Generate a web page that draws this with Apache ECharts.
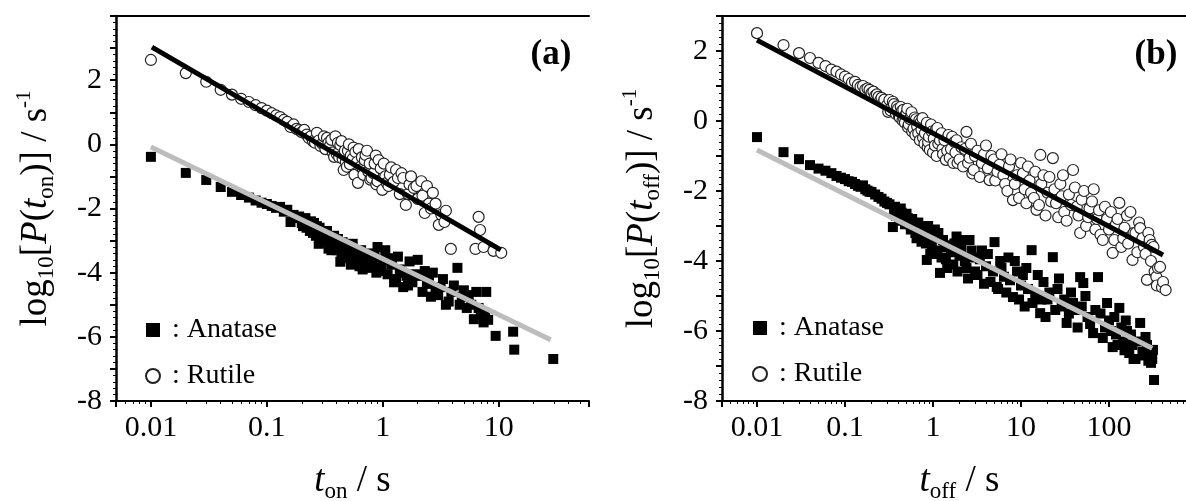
<!DOCTYPE html>
<html><head><meta charset="utf-8">
<script src="https://cdn.jsdelivr.net/npm/echarts@6/dist/echarts.min.js"></script>
<style>html,body{margin:0;padding:0;background:#fff}#c{width:1186px;height:501px}</style>
</head><body><div id="c"></div>
<script>
const FONT = "'Liberation Serif','Times New Roman',serif";

// ---- Panel (a): on-times ----
const anataseOn = [[0.01,-0.39],[0.02,-0.89],[0.03,-1.11],[0.04,-1.33],[0.05,-1.48],[0.06,-1.58],[0.07,-1.66],[0.08,-1.75],[0.09,-1.82],[0.10,-1.86],[0.11,-1.92],[0.12,-1.98],[0.13,-1.95],[0.14,-2.10],[0.15,-2.04],[0.16,-2.42],[0.17,-2.20],[0.18,-2.30],[0.19,-2.25],[0.20,-2.45],[0.205,-2.55],[0.21,-2.35],[0.215,-2.30],[0.22,-2.60],[0.23,-2.50],[0.235,-2.70],[0.24,-2.40],[0.245,-2.55],[0.25,-2.76],[0.255,-2.45],[0.26,-2.62],[0.265,-2.85],[0.27,-2.55],[0.28,-3.10],[0.285,-2.60],[0.29,-2.90],[0.295,-3.05],[0.30,-2.72],[0.31,-3.00],[0.32,-2.85],[0.33,-2.70],[0.34,-3.25],[0.35,-3.10],[0.36,-3.30],[0.37,-2.95],[0.38,-2.85],[0.39,-3.15],[0.40,-3.30],[0.41,-2.95],[0.42,-3.05],[0.43,-3.66],[0.44,-3.45],[0.45,-3.05],[0.46,-3.25],[0.47,-3.40],[0.48,-3.20],[0.49,-3.55],[0.50,-3.45],[0.52,-3.30],[0.53,-3.75],[0.55,-3.10],[0.57,-3.60],[0.58,-3.35],[0.60,-3.55],[0.62,-3.40],[0.63,-3.80],[0.65,-3.30],[0.67,-3.90],[0.70,-3.70],[0.72,-3.55],[0.75,-3.40],[0.78,-3.60],[0.80,-3.85],[0.82,-3.65],[0.85,-3.50],[0.88,-4.00],[0.90,-3.20],[0.95,-3.95],[0.98,-3.85],[1.00,-3.60],[1.05,-3.30],[1.10,-4.05],[1.15,-3.55],[1.20,-3.75],[1.25,-4.30],[1.30,-4.20],[1.35,-3.50],[1.40,-3.90],[1.45,-4.00],[1.50,-4.45],[1.60,-4.10],[1.65,-4.40],[1.70,-3.65],[1.80,-4.30],[1.90,-4.05],[2.00,-3.60],[2.10,-4.10],[2.20,-4.60],[2.30,-3.95],[2.40,-4.35],[2.50,-4.20],[2.60,-4.75],[2.70,-4.00],[2.85,-4.50],[3.00,-4.70],[3.15,-4.45],[3.30,-4.20],[3.50,-5.00],[3.70,-4.90],[3.90,-4.60],[4.10,-4.40],[4.40,-3.85],[4.60,-5.00],[4.80,-4.75],[5.00,-4.55],[5.30,-5.10],[5.50,-4.70],[5.80,-5.00],[6.10,-5.45],[6.40,-4.60],[6.70,-5.10],[7.00,-5.30],[7.40,-5.55],[7.60,-5.25],[7.80,-4.60],[8.10,-5.47],[9.40,-5.97],[13.3,-5.84],[13.6,-6.40],[29.5,-6.69]];
const rutileOn = [[0.01,2.63],[0.02,2.22],[0.03,1.95],[0.04,1.70],[0.05,1.55],[0.06,1.42],[0.07,1.32],[0.08,1.22],[0.09,1.13],[0.10,1.05],[0.11,0.97],[0.12,0.90],[0.13,0.85],[0.14,0.76],[0.15,0.70],[0.16,0.54],[0.17,0.62],[0.18,0.48],[0.19,0.44],[0.20,0.38],[0.21,0.45],[0.22,0.30],[0.23,0.20],[0.24,0.25],[0.25,0.10],[0.26,0.05],[0.27,0.36],[0.28,0.12],[0.29,-0.05],[0.30,0.02],[0.31,0.25],[0.32,-0.15],[0.33,0.20],[0.34,0.05],[0.35,-0.05],[0.36,0.14],[0.37,-0.25],[0.38,-0.39],[0.39,0.25],[0.40,-0.30],[0.41,0.05],[0.42,-0.40],[0.43,-0.02],[0.44,0.10],[0.45,-0.45],[0.46,-0.80],[0.47,-0.20],[0.48,-0.55],[0.49,-0.70],[0.50,-0.20],[0.51,0.00],[0.52,-0.62],[0.53,-0.35],[0.55,-0.45],[0.56,-0.10],[0.57,-0.95],[0.58,-0.24],[0.60,-0.55],[0.61,-1.20],[0.62,-0.15],[0.64,-0.70],[0.66,-0.40],[0.67,-0.75],[0.68,-0.95],[0.70,-0.50],[0.71,-0.33],[0.73,-0.20],[0.75,-0.85],[0.77,-0.60],[0.78,-1.10],[0.80,-1.05],[0.83,-0.90],[0.85,-0.60],[0.87,-0.35],[0.88,-1.25],[0.90,-1.15],[0.92,-0.49],[0.96,-0.75],[0.99,-1.42],[1.02,-0.60],[1.05,-1.00],[1.08,-1.20],[1.12,-1.30],[1.15,-0.95],[1.18,-0.72],[1.24,-1.17],[1.30,-0.80],[1.35,-1.05],[1.40,-1.55],[1.45,-0.90],[1.50,-1.05],[1.58,-1.89],[1.65,-1.55],[1.70,-1.25],[1.75,-1.00],[1.85,-1.36],[1.95,-1.30],[2.00,-1.70],[2.15,-1.15],[2.20,-1.60],[2.30,-2.14],[2.40,-1.30],[2.50,-1.85],[2.60,-2.00],[2.70,-1.51],[2.85,-1.85],[3.04,-2.51],[3.20,-2.20],[3.40,-2.42],[3.50,-2.07],[3.86,-3.26],[6.30,-3.26],[6.70,-2.26],[6.90,-2.67],[7.40,-3.20],[9.00,-3.32],[10.5,-3.38]];
const anataseOnFit = [[0.01,-0.08],[28,-6.09]];
const rutileOnFit = [[0.0102,3.03],[10.4,-3.29]];

// ---- Panel (b): off-times ----
const anataseOff = [[0.01,-0.46],[0.02,-0.89],[0.03,-1.09],[0.04,-1.26],[0.05,-1.36],[0.06,-1.42],[0.07,-1.49],[0.08,-1.57],[0.09,-1.62],[0.10,-1.66],[0.11,-1.72],[0.12,-1.74],[0.13,-1.80],[0.14,-1.85],[0.15,-1.88],[0.16,-1.84],[0.17,-1.95],[0.18,-1.99],[0.19,-2.02],[0.20,-2.03],[0.22,-2.10],[0.24,-2.17],[0.26,-2.22],[0.28,-2.30],[0.30,-2.34],[0.32,-2.38],[0.35,-3.03],[0.36,-2.55],[0.37,-2.45],[0.38,-2.70],[0.40,-2.60],[0.41,-2.85],[0.43,-2.50],[0.44,-2.62],[0.46,-2.75],[0.48,-2.95],[0.50,-2.65],[0.52,-2.78],[0.54,-2.95],[0.56,-3.10],[0.58,-2.80],[0.60,-2.92],[0.63,-3.20],[0.65,-3.35],[0.68,-2.90],[0.70,-3.05],[0.74,-3.45],[0.77,-3.25],[0.80,-3.05],[0.83,-3.50],[0.85,-3.97],[0.88,-3.00],[0.90,-3.25],[0.93,-3.80],[0.97,-3.60],[1.00,-3.35],[1.05,-3.10],[1.08,-3.70],[1.12,-3.80],[1.15,-3.20],[1.20,-4.34],[1.25,-3.90],[1.30,-3.40],[1.35,-3.60],[1.40,-3.95],[1.45,-4.20],[1.55,-3.55],[1.60,-3.75],[1.70,-4.10],[1.75,-3.50],[1.85,-3.30],[1.90,-4.30],[2.00,-3.85],[2.10,-3.65],[2.20,-3.40],[2.30,-4.00],[2.40,-4.20],[2.50,-4.50],[2.60,-3.40],[2.75,-3.70],[2.90,-3.90],[3.00,-4.30],[3.20,-4.40],[3.40,-3.95],[3.60,-3.70],[3.80,-4.65],[4.00,-4.15],[4.20,-3.80],[4.50,-4.60],[4.80,-4.30],[5.00,-3.46],[5.30,-4.74],[5.50,-4.80],[5.80,-4.00],[6.00,-4.20],[6.40,-4.45],[6.80,-4.90],[7.20,-3.90],[7.50,-4.55],[8.10,-5.03],[8.50,-4.00],[9.00,-4.30],[9.50,-5.10],[10.0,-4.70],[10.5,-4.40],[11.0,-5.30],[11.5,-4.20],[12.0,-4.80],[13.2,-3.69],[13.5,-5.20],[14.5,-5.00],[15.5,-4.40],[16.5,-5.49],[17.0,-5.10],[18.0,-4.60],[19.0,-5.60],[20.0,-5.10],[21.0,-4.90],[23.0,-3.89],[24.5,-5.40],[26.0,-4.80],[27.0,-4.50],[29.0,-5.30],[31.0,-5.10],[33.0,-5.77],[35.0,-5.50],[37.0,-4.90],[39.0,-5.20],[42.0,-5.40],[44.0,-5.90],[47.0,-4.46],[49.0,-5.30],[51.0,-4.63],[54.0,-5.00],[57.0,-5.60],[61.0,-5.80],[66.0,-6.06],[70.0,-5.40],[75.0,-4.46],[80.0,-5.50],[85.0,-6.20],[90.0,-5.90],[95.0,-5.20],[100,-5.70],[105,-6.00],[110,-6.46],[115,-5.60],[120,-6.10],[125,-6.40],[131,-5.34],[138,-5.90],[145,-6.30],[150,-6.55],[155,-5.70],[160,-6.00],[170,-6.63],[178,-6.10],[185,-6.40],[190,-6.80],[200,-6.80],[210,-6.30],[226,-5.77],[240,-6.60],[250,-6.70],[260,-6.17],[270,-6.40],[280,-6.85],[290,-6.60],[300,-6.91],[310,-6.80],[316,-6.54],[325,-7.40]];
const rutileOff = [[0.01,2.51],[0.02,2.17],[0.03,1.94],[0.04,1.80],[0.05,1.66],[0.06,1.57],[0.07,1.47],[0.08,1.41],[0.09,1.33],[0.10,1.27],[0.11,1.20],[0.12,1.10],[0.13,1.12],[0.14,1.03],[0.15,0.98],[0.16,1.00],[0.17,0.90],[0.18,0.93],[0.19,0.89],[0.20,0.80],[0.21,0.84],[0.22,0.72],[0.23,0.76],[0.24,0.69],[0.25,0.58],[0.26,0.66],[0.27,0.52],[0.28,0.61],[0.30,0.45],[0.31,0.26],[0.32,0.60],[0.33,0.30],[0.34,0.38],[0.35,0.55],[0.36,0.48],[0.38,0.20],[0.39,0.42],[0.40,0.35],[0.41,0.15],[0.42,0.10],[0.43,0.40],[0.44,0.28],[0.45,0.02],[0.46,0.32],[0.47,0.05],[0.48,-0.05],[0.49,0.18],[0.50,0.22],[0.51,0.35],[0.52,-0.18],[0.53,-0.10],[0.55,0.05],[0.56,0.12],[0.57,0.25],[0.58,-0.30],[0.60,-0.22],[0.62,0.10],[0.63,-0.40],[0.64,0.05],[0.66,-0.15],[0.68,-0.35],[0.70,0.02],[0.71,-0.55],[0.72,-0.05],[0.74,-0.25],[0.76,0.08],[0.77,-0.48],[0.80,-0.65],[0.81,-0.35],[0.83,-0.15],[0.85,-0.05],[0.87,-0.75],[0.88,-0.60],[0.90,-0.45],[0.92,-0.83],[0.95,-0.10],[0.97,-0.30],[1.00,-0.90],[1.02,-0.50],[1.05,-0.70],[1.08,-0.25],[1.10,-1.00],[1.12,-0.20],[1.15,-0.65],[1.20,-0.55],[1.25,-0.35],[1.28,-0.80],[1.30,-0.95],[1.35,-0.55],[1.40,-1.11],[1.45,-0.85],[1.50,-0.40],[1.55,-1.05],[1.60,-0.80],[1.65,-0.45],[1.70,-1.20],[1.75,-0.60],[1.80,-0.90],[1.85,-0.55],[1.90,-1.20],[2.00,-1.10],[2.10,-0.75],[2.20,-1.30],[2.30,-0.80],[2.40,-0.31],[2.50,-1.20],[2.60,-1.05],[2.70,-0.65],[2.80,-1.50],[2.90,-1.40],[3.00,-1.00],[3.20,-0.85],[3.40,-1.60],[3.60,-1.20],[3.80,-0.95],[4.00,-0.70],[4.20,-1.35],[4.40,-1.69],[4.60,-1.00],[4.90,-1.10],[5.10,-1.70],[5.40,-1.45],[5.70,-1.25],[6.00,-0.95],[6.30,-1.55],[6.60,-1.80],[7.00,-2.00],[7.30,-1.30],[7.60,-1.10],[8.10,-2.26],[8.50,-1.80],[9.00,-1.55],[9.50,-2.20],[10.0,-1.20],[10.5,-1.50],[11.0,-1.95],[11.5,-2.35],[12.0,-1.30],[12.5,-1.70],[13.0,-2.05],[14.0,-2.20],[14.5,-1.45],[15.0,-2.54],[16.0,-2.40],[16.6,-0.97],[17.0,-1.80],[18.0,-1.55],[19.0,-2.70],[20.0,-2.05],[21.0,-1.60],[22.0,-2.30],[23.0,-1.06],[24.0,-1.95],[25.0,-2.35],[26.5,-2.75],[28.0,-1.80],[29.0,-2.15],[30.0,-1.55],[31.0,-2.60],[33.0,-2.85],[35.0,-2.10],[37.0,-2.40],[39.0,-1.40],[41.0,-1.90],[43.0,-2.45],[45.0,-2.70],[47.0,-3.20],[49.0,-2.25],[52.0,-2.00],[55.0,-3.00],[58.0,-2.75],[60.0,-2.50],[64.0,-2.30],[67.0,-1.95],[70.0,-3.10],[73.0,-2.80],[77.0,-2.55],[80.0,-3.25],[85.0,-3.40],[90.0,-2.45],[95.0,-2.80],[100,-3.10],[105,-2.60],[110,-3.77],[115,-3.40],[120,-2.95],[125,-2.80],[131,-2.34],[138,-3.60],[145,-3.35],[150,-3.05],[160,-2.70],[165,-3.50],[175,-2.60],[185,-3.97],[190,-3.20],[200,-3.20],[210,-3.75],[220,-2.90],[226,-3.06],[240,-3.35],[250,-3.60],[260,-3.80],[270,-4.54],[280,-3.20],[290,-3.40],[300,-4.00],[306,-3.54],[320,-3.60],[330,-4.30],[345,-4.45],[350,-4.70],[360,-4.20],[380,-4.17],[400,-4.75],[411,-4.60],[440,-4.83]];
const anataseOffFit = [[0.01,-0.83],[310,-6.49]];
const rutileOffFit = [[0.01,2.31],[411,-3.83]];

// ---- tick labels ----
const xTickLabelsA = ['0.01','0.1','1','10'];
const xTickLabelsB = ['0.01','0.1','1','10','100'];
const yTickLabels = ['-8','-6','-4','-2','0','2'];

function fmtLog(list){
  return function(v){
    const s = String(+Number(v).toPrecision(2));
    return list.indexOf(s) >= 0 ? s : '';
  };
}
function fmtY(v){ const s = String(Math.round(v)); return (Math.abs(v-Math.round(v))<1e-6 && yTickLabels.indexOf(s)>=0) ? s : ''; }

const baseRich = {
  n:{fontFamily:FONT,fontSize:37,color:'#000',lineHeight:44,verticalAlign:'middle'},
  i:{fontFamily:FONT,fontSize:37,fontStyle:'italic',color:'#000',lineHeight:44,verticalAlign:'middle'},
  sub:{fontFamily:FONT,fontSize:23,color:'#000',lineHeight:12,verticalAlign:'bottom'},
  sup:{fontFamily:FONT,fontSize:21,color:'#000',lineHeight:12,verticalAlign:'top'}
};

function xAxisBottom(grid, min, max, labels, nameStr){
  return {type:'log', logBase:10, gridIndex:grid, position:'bottom', min:min, max:max,
    axisLine:{show:true, onZero:false, lineStyle:{color:'#000', width:2}},
    axisTick:{show:true, length:6, lineStyle:{color:'#000', width:2}},
    minorTick:{show:true, splitNumber:9, length:3, lineStyle:{color:'#000', width:1}},
    splitLine:{show:false}, minorSplitLine:{show:false},
    axisLabel:{show:true, margin:12, fontFamily:FONT, fontSize:30, color:'#000', formatter:fmtLog(labels), showMinLabel:false, showMaxLabel:false},
    name:nameStr, nameLocation:'middle', nameGap:58, nameTextStyle:{rich:baseRich}
  };
}
function xAxisTop(grid, min, max){
  return {type:'log', logBase:10, gridIndex:grid, position:'top', min:min, max:max,
    axisLine:{show:true, onZero:false, lineStyle:{color:'#000', width:2}}, axisTick:{show:false},
    axisLabel:{show:false}, splitLine:{show:false}};
}
function yAxisLeft(grid, min, max, nameStr){
  return {type:'value', gridIndex:grid, min:min, max:max, interval:1,
    axisLine:{show:true, onZero:false, lineStyle:{color:'#000', width:2.5}},
    axisTick:{show:true, length:6, lineStyle:{color:'#000', width:2}},
    minorTick:{show:true, splitNumber:5, length:3, lineStyle:{color:'#000', width:1}},
    splitLine:{show:false},
    axisLabel:{margin:14, fontFamily:FONT, fontSize:30, color:'#000', formatter:fmtY},
    name:nameStr, nameLocation:'middle', nameGap:58, nameTextStyle:{rich:baseRich}
  };
}

const chart = echarts.init(document.getElementById('c'), null, {renderer:'canvas'});
const option = {
  animation:false,
  backgroundColor:'#fff',
  grid:[
    {left:116, top:16, width:473, height:385, outerBoundsMode:'none', containLabel:false},
    {left:722, top:16, width:475, height:385, outerBoundsMode:'none', containLabel:false}
  ],
  xAxis:[
    xAxisBottom(0, 0.005, 60, xTickLabelsA, '{i|t}{sub|on}{n| / s}'),
    xAxisTop(0, 0.005, 60),
    xAxisBottom(1, 0.004, 1000, xTickLabelsB, '{i|t}{sub|off}{n| / s}'),
    xAxisTop(1, 0.004, 1000)
  ],
  yAxis:[
    yAxisLeft(0, -8, 4, '{n|log}{sub|10}{n|[}{i|P}{n|(}{i|t}{sub|on}{n|)] / s}{sup|-1}'),
    yAxisLeft(1, -8, 3, '{n|log}{sub|10}{n|[}{i|P}{n|(}{i|t}{sub|off}{n|)] / s}{sup|-1}')
  ],
  legend:[
    {orient:'vertical', left:140, top:311, itemWidth:14, itemHeight:14, itemGap:18,
     data:['Anatase','Rutile'], formatter:' : {name}', selectedMode:false,
     textStyle:{fontFamily:FONT, fontSize:28, color:'#000', lineHeight:28}},
    {orient:'vertical', left:747, top:309, itemWidth:14, itemHeight:14, itemGap:18,
     data:['Anatase','Rutile'], formatter:' : {name}', selectedMode:false,
     textStyle:{fontFamily:FONT, fontSize:28, color:'#000', lineHeight:28}}
  ],
  graphic:[
    {type:'text', x:551, y:55, style:{text:'(a)', fill:'#000', font:'bold 35px '+FONT, align:'center', verticalAlign:'middle'}},
    {type:'text', x:1156, y:55, style:{text:'(b)', fill:'#000', font:'bold 35px '+FONT, align:'center', verticalAlign:'middle'}}
  ],
  series:[
    {name:'Anatase', type:'scatter', xAxisIndex:0, yAxisIndex:0, data:anataseOn, symbol:'rect', symbolSize:10, itemStyle:{color:'#000', opacity:1}, z:2},
    {name:'Rutile', type:'scatter', xAxisIndex:0, yAxisIndex:0, data:rutileOn, symbol:'circle', symbolSize:11, itemStyle:{color:'#fff', borderColor:'#222', borderWidth:1.2, opacity:1}, z:2},
    {name:'fitA1', type:'line', xAxisIndex:0, yAxisIndex:0, data:anataseOnFit, showSymbol:false, symbol:'none', lineStyle:{color:'#bdbdbd', width:5}, z:5},
    {name:'fitR1', type:'line', xAxisIndex:0, yAxisIndex:0, data:rutileOnFit, showSymbol:false, symbol:'none', lineStyle:{color:'#000', width:5}, z:5},
    {name:'Anatase', type:'scatter', xAxisIndex:2, yAxisIndex:1, data:anataseOff, symbol:'rect', symbolSize:10, itemStyle:{color:'#000', opacity:1}, z:2},
    {name:'Rutile', type:'scatter', xAxisIndex:2, yAxisIndex:1, data:rutileOff, symbol:'circle', symbolSize:11, itemStyle:{color:'#fff', borderColor:'#222', borderWidth:1.2, opacity:1}, z:2},
    {name:'fitA2', type:'line', xAxisIndex:2, yAxisIndex:1, data:anataseOffFit, showSymbol:false, symbol:'none', lineStyle:{color:'#bdbdbd', width:5}, z:5},
    {name:'fitR2', type:'line', xAxisIndex:2, yAxisIndex:1, data:rutileOffFit, showSymbol:false, symbol:'none', lineStyle:{color:'#000', width:5}, z:5}
  ]
};
chart.setOption(option);
</script>
</body></html>
